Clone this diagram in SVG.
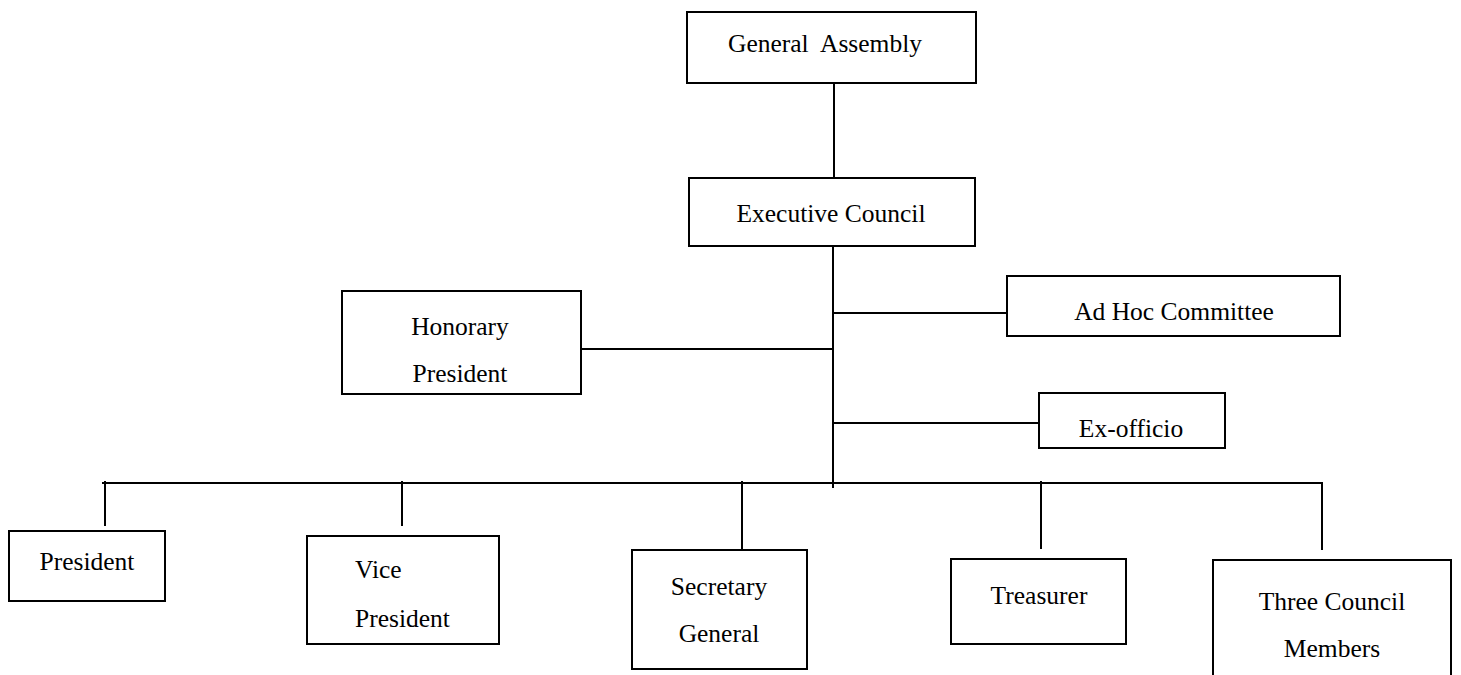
<svg xmlns="http://www.w3.org/2000/svg" width="1461" height="675" viewBox="0 0 1461 675">
<style>
.box{fill:#fff;stroke:#000;stroke-width:2}
.ln{stroke:#000;stroke-width:2;fill:none}
.t{font-family:'Liberation Serif','DejaVu Serif',serif;font-size:25.5px;fill:#000;text-anchor:middle}
</style>
<rect width="1461" height="675" fill="#fff"/>
<g id="connectors">
<line class="ln" x1="834" y1="83" x2="834" y2="178"/>
<line class="ln" x1="833" y1="246" x2="833" y2="488"/>
<line class="ln" x1="833" y1="313" x2="1007" y2="313"/>
<line class="ln" x1="581" y1="349" x2="833" y2="349"/>
<line class="ln" x1="833" y1="423" x2="1039" y2="423"/>
<polyline class="ln" points="102,483 1322,483 1322,550"/>
<line class="ln" x1="105" y1="481" x2="105" y2="526"/>
<line class="ln" x1="402" y1="481" x2="402" y2="526"/>
<line class="ln" x1="742" y1="481" x2="742" y2="549"/>
<line class="ln" x1="1041" y1="481" x2="1041" y2="549"/>
</g>
<g id="general-assembly">
<rect class="box" x="687" y="12" width="289" height="71"/>
<text class="t" font-family="Liberation Serif, serif" x="825" y="52" xml:space="preserve">General  Assembly</text>
</g>
<g id="executive-council">
<rect class="box" x="689" y="178" width="286" height="68"/>
<text class="t" x="831" y="222">Executive Council</text>
</g>
<g id="honorary-president">
<rect class="box" x="342" y="291" width="239" height="103"/>
<text class="t" x="460" y="335">Honorary</text>
<text class="t" x="460" y="382">President</text>
</g>
<g id="ad-hoc-committee">
<rect class="box" x="1007" y="276" width="333" height="60"/>
<text class="t" x="1174" y="320">Ad Hoc Committee</text>
</g>
<g id="ex-officio">
<rect class="box" x="1039" y="393" width="186" height="55"/>
<text class="t" x="1131" y="437">Ex-officio</text>
</g>
<g id="president">
<rect class="box" x="9" y="531" width="156" height="70"/>
<text class="t" x="87" y="570">President</text>
</g>
<g id="vice-president">
<rect class="box" x="307" y="536" width="192" height="108"/>
<text class="t" x="355" y="578" style="text-anchor:start">Vice</text>
<text class="t" x="355" y="627" style="text-anchor:start">President</text>
</g>
<g id="secretary-general">
<rect class="box" x="632" y="550" width="175" height="119"/>
<text class="t" x="719" y="595">Secretary</text>
<text class="t" x="719" y="642">General</text>
</g>
<g id="treasurer">
<rect class="box" x="951" y="559" width="175" height="85"/>
<text class="t" x="1039" y="604">Treasurer</text>
</g>
<g id="three-council-members">
<rect class="box" x="1213" y="560" width="238" height="125"/>
<text class="t" x="1332" y="610">Three Council</text>
<text class="t" x="1332" y="657">Members</text>
</g>
</svg>
